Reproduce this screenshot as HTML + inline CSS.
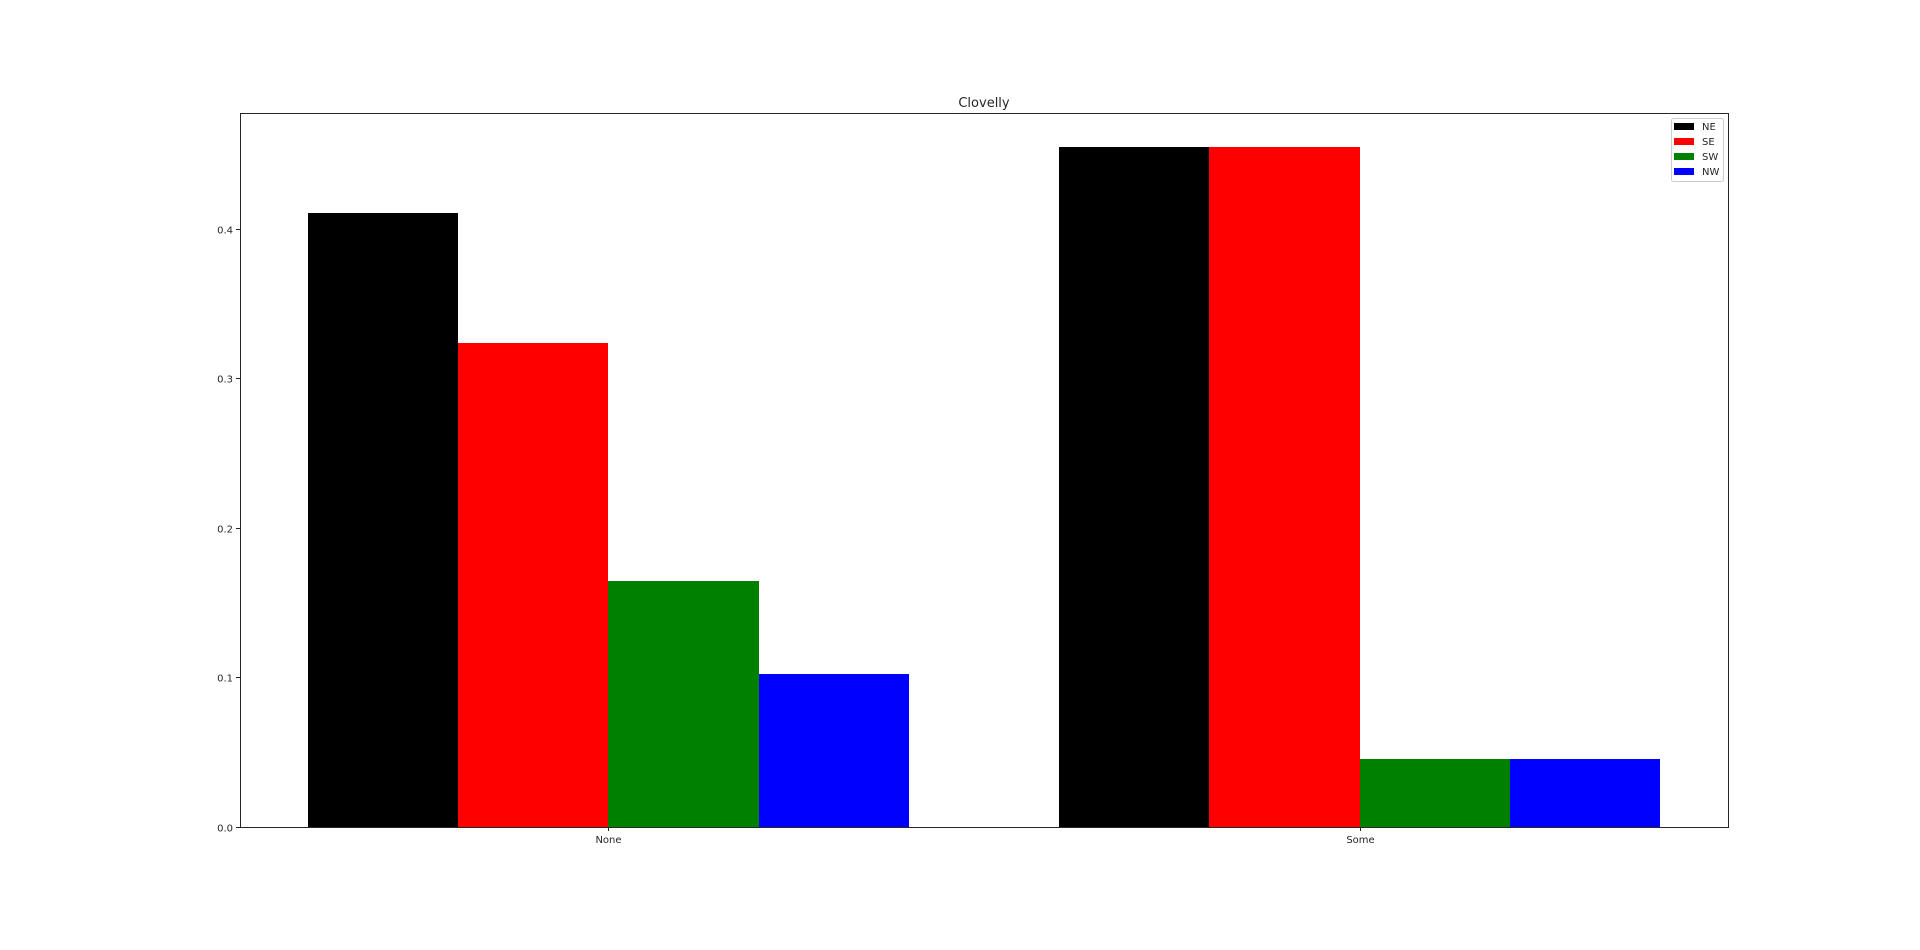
<!DOCTYPE html>
<html><head><meta charset="utf-8"><style>
body{margin:0;background:#fff;}
svg text{font-family:"DejaVu Sans","Liberation Sans",sans-serif;fill:#262626;}
#bars rect{shape-rendering:crispEdges;}
</style></head><body>
<svg id="chart" width="1920" height="945">
<text x="984" y="107" font-size="13" text-anchor="middle">Clovelly</text>
<g id="bars"></g>
<g id="axes"></g>
<rect x="240.5" y="113.5" width="1488" height="714" fill="none" stroke="#262626" stroke-width="1"/>
<g>
<rect x="1671.5" y="118.5" width="52" height="63" rx="2" fill="#fff" stroke="#ccc"/>
<g id="legend"></g>
</g>
</svg>
<script>
const categories=["None","Some"];
const seriesNames=["NE","SE","SW","NW"];
const seriesColors=["#000000","#ff0000","#008000","#0000ff"];
const NE=[0.4104,0.4545];
const SE=[0.3235,0.4545];
const SW=[0.1642,0.0455];
const NW=[0.1026,0.0455];
const yTicks=[0.0,0.1,0.2,0.3,0.4];
const series=[NE,SE,SW,NW];
const L=240,R=1728,T=113,B=827;
const xmin=-0.49,xmax=1.49,ymax=0.4773,bw=0.2;
const xs=v=>L+(v-xmin)/(xmax-xmin)*(R-L);
const ys=v=>B-v/ymax*(B-T);
const NS="http://www.w3.org/2000/svg";
const bars=document.getElementById('bars'),axes=document.getElementById('axes'),leg=document.getElementById('legend');
series.forEach((s,si)=>{s.forEach((v,ci)=>{
 const x0=Math.round(xs(ci+(si-2)*bw)),x1=Math.round(xs(ci+(si-1)*bw));
 const r=document.createElementNS(NS,'rect');
 r.setAttribute('x',x0);r.setAttribute('width',x1-x0);
 r.setAttribute('y',Math.round(ys(v)));r.setAttribute('height',B-Math.round(ys(v)));
 r.setAttribute('fill',seriesColors[si]);
 
 
 bars.appendChild(r);});});
yTicks.forEach(t=>{
 const y=Math.round(ys(t))+0.5;
 const l=document.createElementNS(NS,'line');
 l.setAttribute('x1',236);l.setAttribute('x2',240);l.setAttribute('y1',y);l.setAttribute('y2',y);l.setAttribute('stroke','#262626');
 
 
 axes.appendChild(l);
 const tx=document.createElementNS(NS,'text');
 tx.setAttribute('x',233);tx.setAttribute('y',y+4);tx.setAttribute('font-size','10');tx.setAttribute('text-anchor','end');
 tx.textContent=t.toFixed(1);
 
 
 axes.appendChild(tx);});
categories.forEach((c,i)=>{
 const x=Math.round(xs(i))+0.5;
 const l=document.createElementNS(NS,'line');
 l.setAttribute('x1',x);l.setAttribute('x2',x);l.setAttribute('y1',827);l.setAttribute('y2',831);l.setAttribute('stroke','#262626');
 
 
 axes.appendChild(l);
 const tx=document.createElementNS(NS,'text');
 tx.setAttribute('x',x);tx.setAttribute('y',843);tx.setAttribute('font-size','10');tx.setAttribute('text-anchor','middle');
 tx.textContent=c;
 
 
 axes.appendChild(tx);});
seriesNames.forEach((n,i)=>{
 const y=126+i*15;
 const r=document.createElementNS(NS,'rect');
 r.setAttribute('x',1674);r.setAttribute('y',y-3);r.setAttribute('width',20);r.setAttribute('height',7);r.setAttribute('fill',seriesColors[i]);
 
 
 leg.appendChild(r);
 const tx=document.createElementNS(NS,'text');
 tx.setAttribute('x',1702);tx.setAttribute('y',y+4);tx.setAttribute('font-size','10');
 tx.textContent=n;
 
 
 leg.appendChild(tx);});
</script>
</body></html>
